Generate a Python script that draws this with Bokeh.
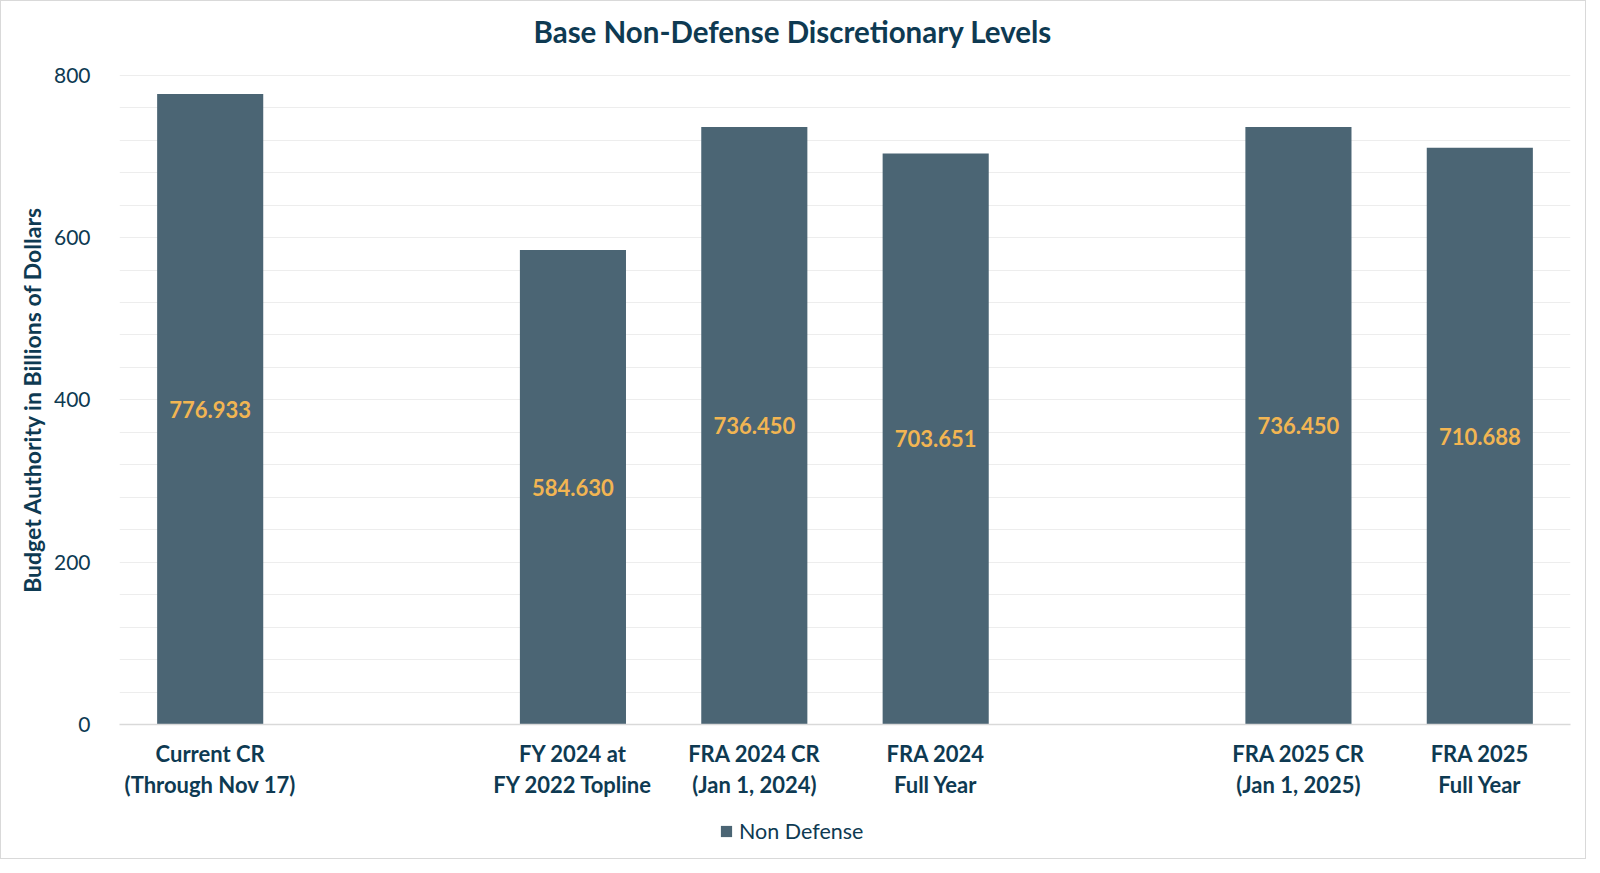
from bokeh.plotting import figure
from bokeh.layouts import column
from bokeh.models import (ColumnDataSource, FactorRange, Range1d, FixedTicker,
                          Legend, LegendItem)
from bokeh.core.properties import value
from bokeh.embed import file_html
from bokeh.resources import INLINE

# ---- data ----
categories = [
    "Current CR\n(Through Nov 17)",
    " ",
    "FY 2024 at\nFY 2022 Topline",
    "FRA 2024 CR\n(Jan 1, 2024)",
    "FRA 2024\nFull Year",
    "  ",
    "FRA 2025 CR\n(Jan 1, 2025)",
    "FRA 2025\nFull Year",
]
bar_categories = [
    "Current CR\n(Through Nov 17)",
    "FY 2024 at\nFY 2022 Topline",
    "FRA 2024 CR\n(Jan 1, 2024)",
    "FRA 2024\nFull Year",
    "FRA 2025 CR\n(Jan 1, 2025)",
    "FRA 2025\nFull Year",
]
non_defense = [776.933, 584.630, 736.450, 703.651, 736.450, 710.688]
y_ticks = [0, 200, 400, 600, 800]
grid_ticks = list(range(40, 801, 40))

TITLE = "Base Non-Defense Discretionary Levels"
Y_LABEL = "Budget Authority in Billions of Dollars"
SERIES = "Non Defense"

NAVY = "#0E3A52"
BAR = "#4B6574"
GOLD = "#F2B552"
FONT = "Lato"
W = 1584

src = ColumnDataSource(dict(
    cat=bar_categories,
    val=non_defense,
    mid=[v / 2 for v in non_defense],
    txt=["{:.3f}".format(v) for v in non_defense],
))

# ---- title strip ----
tf = figure(width=W, height=60, x_range=Range1d(0, 1), y_range=Range1d(0, 1),
            x_axis_location=None, y_axis_location=None, min_border=0,
            output_backend="svg", toolbar_location=None)
tf.grid.grid_line_color = None
tf.outline_line_color = None
tf.text(x=[0.464], y=[0.5], text=[TITLE], text_align="center", text_baseline="middle",
        text_color=NAVY, text_font=value(FONT), text_font_size=value("29.5px"),
        text_font_style="bold")

# ---- main chart ----
x_rng = FactorRange(*categories, range_padding=0)
p = figure(width=W, height=747, x_range=x_rng, y_range=Range1d(0, 801),
           output_backend="svg", toolbar_location=None)
p.min_border_left = 118
p.min_border_right = 15
p.min_border_top = 13
p.min_border_bottom = 84
p.outline_line_color = None
p.background_fill_color = "white"
p.border_fill_color = "white"

r = p.vbar(x="cat", top="val", width=0.585, source=src, color=BAR, line_color=None)

p.text(x="cat", y="mid", text="txt", source=src, text_align="center",
       text_baseline="middle", text_color=GOLD, text_font=value(FONT),
       text_font_size=value("22px"), text_font_style="bold")

# y axis
p.yaxis.ticker = FixedTicker(ticks=y_ticks)
p.yaxis.axis_line_color = None
p.yaxis.major_tick_line_color = None
p.yaxis.minor_tick_line_color = None
p.yaxis.major_label_text_font = FONT
p.yaxis.major_label_text_font_size = "21px"
p.yaxis.major_label_text_color = NAVY
p.yaxis.major_label_standoff = 23
p.yaxis.axis_label = Y_LABEL
p.yaxis.axis_label_text_font = FONT
p.yaxis.axis_label_text_font_size = "23px"
p.yaxis.axis_label_text_font_style = "bold"
p.yaxis.axis_label_text_color = NAVY
p.yaxis.axis_label_standoff = 5

# x axis
p.xaxis.axis_line_color = "#D9D9D9"
p.xaxis.axis_line_width = 1.5
p.xaxis.major_tick_line_color = None
p.xaxis.minor_tick_line_color = None
p.xaxis.major_label_text_font = FONT
p.xaxis.major_label_text_font_size = "22px"
p.xaxis.major_label_text_font_style = "bold"
p.xaxis.major_label_text_color = NAVY
p.xaxis.major_label_standoff = 9
p.xaxis.major_label_text_line_height = 1.15

# grid
p.xgrid.grid_line_color = None
p.ygrid.ticker = FixedTicker(ticks=grid_ticks)
p.ygrid.grid_line_color = "#EDEDED"
p.ygrid.grid_line_width = 1

# ---- legend strip below the chart (same series, bars out of view) ----
lf = figure(width=W, height=50, x_range=x_rng, y_range=Range1d(1000, 1001),
            x_axis_location=None, y_axis_location=None, min_border=0,
            output_backend="svg", toolbar_location=None)
lf.grid.grid_line_color = None
lf.outline_line_color = None
key = lf.vbar(x="cat", top="val", width=0.585, source=src, color=BAR, line_color=None)

legend = Legend(items=[LegendItem(label=SERIES, renderers=[key])],
                orientation="horizontal", location=(600, 14))
legend.label_text_font = FONT
legend.label_text_font_size = "21.5px"
legend.label_text_color = NAVY
legend.glyph_width = 14
legend.glyph_height = 14
legend.label_standoff = 6
legend.border_line_color = None
legend.background_fill_alpha = 0
lf.add_layout(legend, "center")

page = column(tf, p, lf, spacing=0)
page.styles = {"border": "1px solid #D9D9D9"}

open("out.html", "w").write(file_html(page, INLINE))
